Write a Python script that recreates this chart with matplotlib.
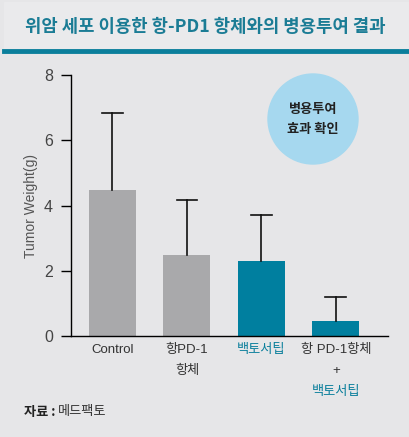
import matplotlib
matplotlib.use("Agg")
import matplotlib.pyplot as plt
from matplotlib.patches import Ellipse, Rectangle
from matplotlib.lines import Line2D

plt.rcParams["font.family"] = ["Noto Sans CJK KR", "DejaVu Sans"]

groups = ["Control", "항PD-1\n항체", "백토서팁", "항 PD-1항체\n+\n백토서팁"]
weights = [4.48, 2.48, 2.30, 0.46]
err_top = [6.84, 4.17, 3.71, 1.20]
bar_colors = ["#a9a9ab", "#a9a9ab", "#007f9f", "#007f9f"]

bg = "#e6e6e8"
teal = "#0b7f9c"
latin = ["Liberation Sans", "Noto Sans CJK KR"]

fig = plt.figure(figsize=(4.1, 4.37), dpi=100, facecolor=bg)

# title band and teal rule
fig.patches.append(Rectangle((0.01, 1 - 50 / 437), 0.99, 50 / 437 - 0.005,
                             transform=fig.transFigure, color="#eaeaec", zorder=0))
fig.lines.append(Line2D([0.01, 1.0], [1 - 51 / 437] * 2, transform=fig.transFigure,
                        color=teal, lw=3.5))
fig.text(0.5, 1 - 27 / 437, "위암 세포 이용한 항-PD1 항체와의 병용투여 결과",
         ha="center", va="center", fontsize=12.8, color="#1b7c95", fontweight="bold")

ax = fig.add_axes([71 / 410, 1 - 336 / 437, (388 - 71) / 410, (336 - 75) / 437])
ax.set_facecolor(bg)
x = list(range(len(groups)))
ax.bar(x, weights, width=0.63, color=bar_colors, zorder=2)
for xi, w, e in zip(x, weights, err_top):
    ax.plot([xi, xi], [w, e], color="#111111", lw=1.2, zorder=3)
    ax.plot([xi - 0.14, xi + 0.14], [e, e], color="#111111", lw=1.2, zorder=3)

ax.set_xlim(-0.557, 3.70)
ax.set_ylim(0, 8)
ax.set_yticks([0, 2, 4, 6, 8])
ax.tick_params(axis="y", direction="out", length=7, width=1, labelsize=11.5,
               labelcolor="#444444", pad=6)
for t in ax.get_yticklabels():
    t.set_family(latin)
ax.set_xticks([])
for s in ["top", "right"]:
    ax.spines[s].set_visible(False)
ax.spines["left"].set_linewidth(1)
ax.spines["bottom"].set_linewidth(1)
ax.set_ylabel("Tumor Weight(g)", fontsize=10, color="#555555", labelpad=4,
              family=latin)

# category labels (multi-coloured)
dark = "#333333"
lab_y = [350, 371, 392]
def put(xi, line, text, color):
    fig.text(ax.transData.transform((xi, 0))[0] / 410, 1 - lab_y[line] / 437, text,
             ha="center", va="center", fontsize=9.5, color=color, family=latin)

put(0, 0, groups[0], dark)
put(1, 0, groups[1].split("\n")[0], dark)
put(1, 1, groups[1].split("\n")[1], dark)
put(2, 0, groups[2], teal)
g4 = groups[3].split("\n")
put(3, 0, g4[0], dark)
put(3, 1, g4[1], dark)
put(3, 2, g4[2], teal)

# badge
fig.patches.append(Ellipse((313 / 410, 1 - 119 / 437), 90 / 410, 90 / 437,
                           transform=fig.transFigure, color="#a6d8ef", zorder=5))
fig.text(313 / 410, 1 - 119 / 437, "병용투여\n효과 확인", ha="center", va="center",
         fontsize=9.5, fontweight="bold", color="#222222", linespacing=1.5, zorder=6)

fig.text(24 / 410, 1 - 412 / 437, "자료 :", ha="left", va="center", fontsize=9.5,
         fontweight="bold", color="#222222")
fig.text(58 / 410, 1 - 412 / 437, "메드팩토", ha="left", va="center", fontsize=9.5,
         color="#333333")

fig.savefig("out.png", dpi=100, facecolor=bg)
